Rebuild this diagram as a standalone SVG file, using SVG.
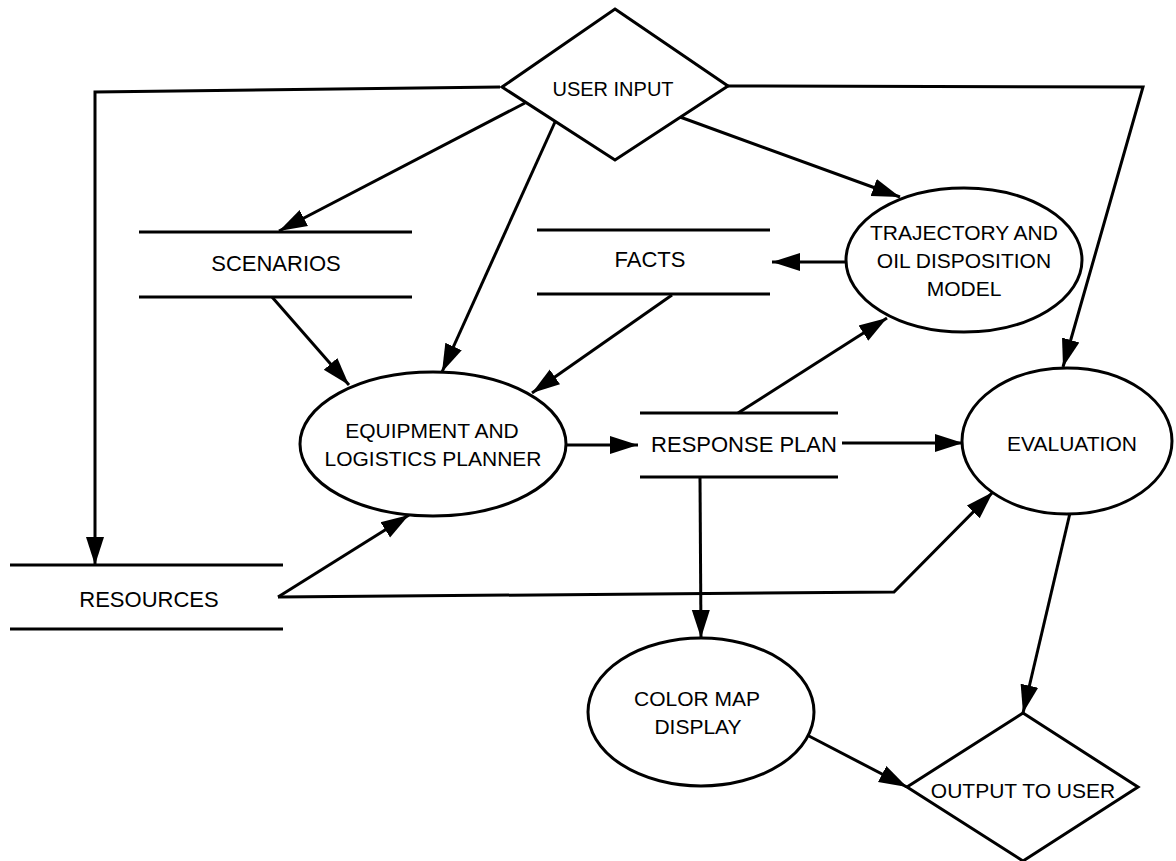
<svg xmlns="http://www.w3.org/2000/svg" width="1176" height="861" viewBox="0 0 1176 861">
<defs>
<style>
.s{fill:none;stroke:#000;stroke-width:3}
.n{fill:#fff;stroke:#000;stroke-width:3}
.c{fill:none;stroke:#000;stroke-width:3;marker-end:url(#ah)}
text{font-family:"Liberation Sans",Arial,sans-serif;fill:#000;text-anchor:middle}
</style>
<marker id="ah" markerUnits="userSpaceOnUse" markerWidth="30" markerHeight="20" refX="28" refY="9" orient="auto" viewBox="0 0 30 18">
<path d="M0,0 L28,9 L0,18 z" fill="#000"/>
</marker>
</defs>
<rect width="1176" height="861" fill="#fff"/>
<g id="connectors">
<polyline class="c" points="500,87 95,92 95,565"/>
<polyline class="c" points="728,86 1143,87 1063,367"/>
<line class="c" x1="525" y1="103" x2="279" y2="231"/>
<line class="c" x1="555" y1="122" x2="442" y2="372"/>
<line class="c" x1="680" y1="117" x2="900" y2="197"/>
<line class="c" x1="846" y1="262" x2="772" y2="262"/>
<line class="c" x1="272" y1="297" x2="349" y2="385"/>
<line class="c" x1="672" y1="295" x2="532" y2="393"/>
<line class="c" x1="565" y1="445" x2="638" y2="445"/>
<line class="c" x1="738" y1="413" x2="887" y2="318"/>
<line class="c" x1="842" y1="443" x2="963" y2="443"/>
<line class="c" x1="700" y1="477" x2="701" y2="638"/>
<line class="c" x1="278" y1="597" x2="409" y2="515"/>
<polyline class="c" points="278,597 894,592 993,492"/>
<line class="c" x1="1070" y1="513" x2="1023" y2="713"/>
<line class="c" x1="807" y1="735" x2="907" y2="787"/>
</g>
<g id="user-input">
<polygon class="n" points="615,9 728,86 615,160 502,87"/>
<text x="613" y="95.5" font-size="20">USER INPUT</text>
</g>
<g id="scenarios">
<line class="s" x1="139" y1="232" x2="412" y2="232"/>
<line class="s" x1="139" y1="297" x2="412" y2="297"/>
<text x="276" y="270.5" font-size="22">SCENARIOS</text>
</g>
<g id="facts">
<line class="s" x1="537" y1="230" x2="770" y2="230"/>
<line class="s" x1="537" y1="294" x2="770" y2="294"/>
<text x="650" y="267" font-size="22">FACTS</text>
</g>
<g id="trajectory">
<ellipse class="n" cx="964" cy="260" rx="118" ry="72"/>
<text x="964" y="239.5" font-size="21">TRAJECTORY AND</text>
<text x="964" y="267.5" font-size="21">OIL DISPOSITION</text>
<text x="964" y="295.5" font-size="21">MODEL</text>
</g>
<g id="equipment">
<ellipse class="n" cx="433" cy="444" rx="133" ry="72"/>
<text x="432" y="437.5" font-size="21">EQUIPMENT AND</text>
<text x="433" y="465.5" font-size="21">LOGISTICS PLANNER</text>
</g>
<g id="response-plan">
<line class="s" x1="640" y1="413" x2="838" y2="413"/>
<line class="s" x1="640" y1="477" x2="838" y2="477"/>
<text x="744" y="452" font-size="22">RESPONSE PLAN</text>
</g>
<g id="evaluation">
<ellipse class="n" cx="1067" cy="441" rx="105" ry="73"/>
<text x="1072" y="450.5" font-size="21">EVALUATION</text>
</g>
<g id="resources">
<line class="s" x1="10" y1="565" x2="283" y2="565"/>
<line class="s" x1="10" y1="629" x2="283" y2="629"/>
<text x="149" y="607" font-size="22">RESOURCES</text>
</g>
<g id="color-map">
<ellipse class="n" cx="701" cy="712" rx="113" ry="74"/>
<text x="697" y="705.5" font-size="21">COLOR MAP</text>
<text x="698" y="733.5" font-size="21">DISPLAY</text>
</g>
<g id="output">
<polygon class="n" points="1023,713 1138,787 1023,861 907,787"/>
<text x="1023" y="797.5" font-size="21">OUTPUT TO USER</text>
</g>
</svg>
